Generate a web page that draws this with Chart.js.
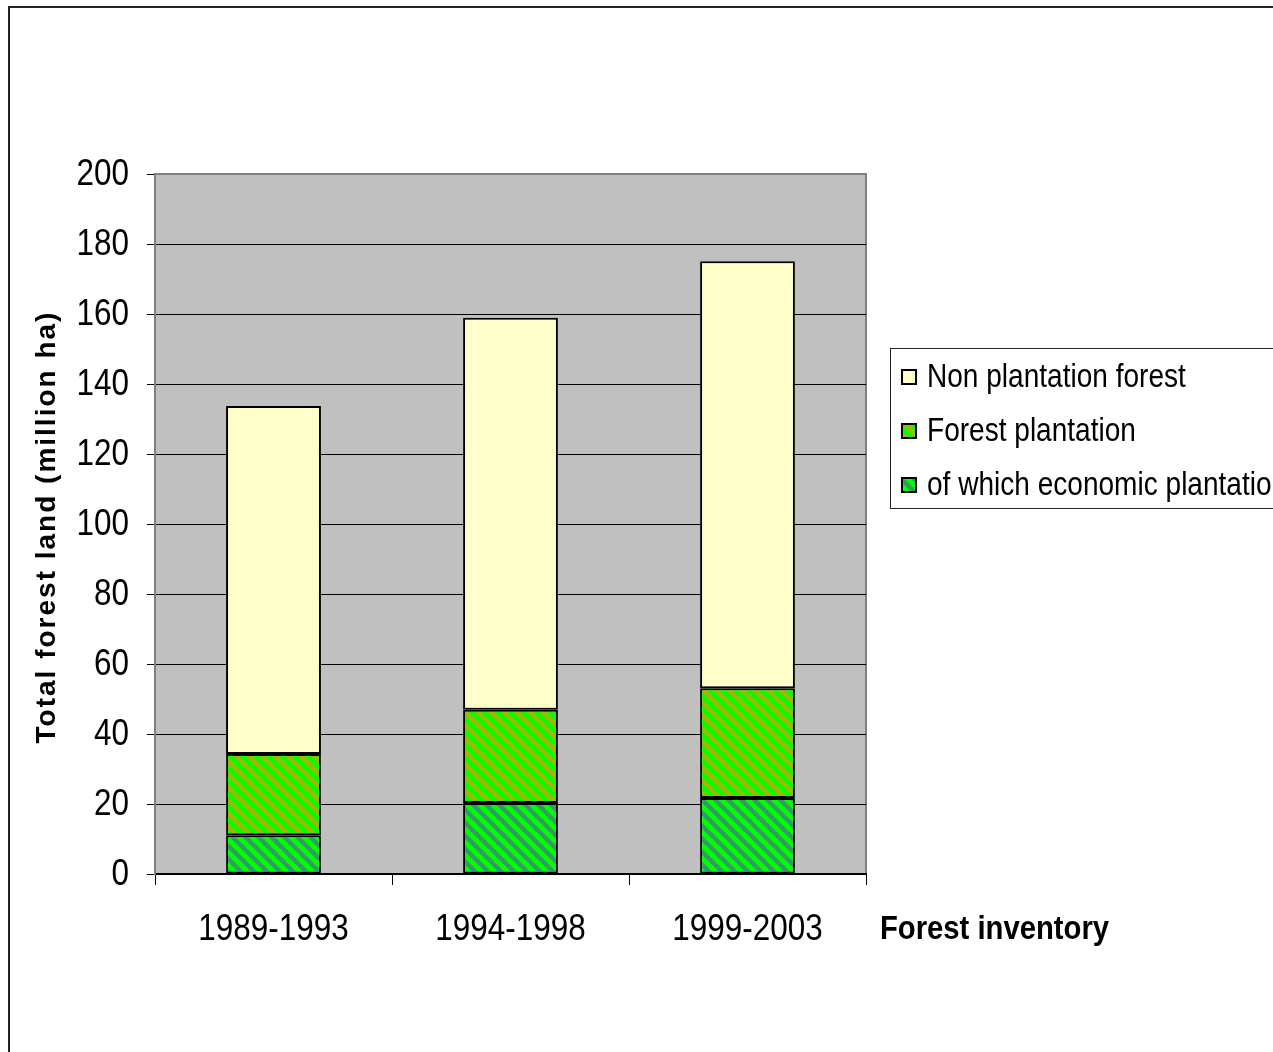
<!DOCTYPE html>
<html>
<head>
<meta charset="utf-8">
<title>Total forest land</title>
<script src="https://cdn.jsdelivr.net/npm/chart.js@4.4.1/dist/chart.umd.min.js"></script>
<style>
  html, body { margin: 0; padding: 0; background: #fff; }
  #chart { display: block; }
</style>
</head>
<body>
<canvas id="chart" width="1273" height="1052"></canvas>
<script>
// data (million ha)
const inventories = ['1989-1993', '1994-1998', '1999-2003'];
const economicPlantation = [11.1, 20.3, 21.7];   // bottom segment
const otherPlantation = [23.2, 26.6, 31.4];      // rest of forest plantation
const nonPlantation = [99.4, 112.0, 122.0];      // top segment
const yTicks = [0, 20, 40, 60, 80, 100, 120, 140, 160, 180, 200];

const seriesLabels = ['of which economic plantation', 'Forest plantation', 'Non plantation forest'];

(() => {
  const sans = "'Liberation Sans', Arial, sans-serif";
  const SQUEEZE = 0.85; // the original used a narrow face, no narrow font here so squeeze it

  // text drawn horizontally squeezed around (x, y)
  function narrowText(ctx, text, x, y, font, align, sx) {
    ctx.save();
    ctx.font = font;
    ctx.textAlign = align;
    ctx.textBaseline = 'middle';
    ctx.fillStyle = '#000';
    ctx.translate(x, y);
    ctx.scale(sx || SQUEEZE, 1);
    ctx.fillText(text, 0, 0);
    ctx.restore();
  }

  // diagonal stripe fill, like the old excel patterns
  function stripes(base, stripe, p) {
    const c = document.createElement('canvas');
    c.width = p; c.height = p;
    const g = c.getContext('2d');
    g.fillStyle = base;
    g.fillRect(0, 0, p, p);
    g.strokeStyle = stripe;
    g.lineWidth = p / 2.6;
    for (let k = -1; k <= 1; k++) {
      g.beginPath();
      g.moveTo(k * p - 1, -1);
      g.lineTo(k * p + p + 1, p + 1);
      g.stroke();
    }
    return g.createPattern(c, 'repeat');
  }

  const econFill = stripes('#339966', '#00FF00', 13);
  const plantFill = stripes('#00FF00', '#99BB00', 13);
  const nonFill = '#FFFFCC';

  // grey plot area, outer frame, tick labels, axis titles and the boxed legend
  const decor = {
    id: 'decor',
    beforeDraw(chart) {
      const { ctx, chartArea: a } = chart;
      ctx.save();
      ctx.fillStyle = '#C0C0C0';
      ctx.fillRect(a.left, a.top, a.right - a.left, a.bottom - a.top);
      ctx.strokeStyle = '#808080';
      ctx.lineWidth = 2;
      ctx.beginPath();
      ctx.moveTo(a.left, a.top);
      ctx.lineTo(a.right, a.top);
      ctx.lineTo(a.right, a.bottom);
      ctx.stroke();
      ctx.restore();
    },
    afterDraw(chart) {
      const { ctx, scales } = chart;

      // tick labels from the scales
      yTicks.forEach(v => {
        narrowText(ctx, String(v), 129, scales.y.getPixelForValue(v) + 1, '37px ' + sans, 'right');
      });
      chart.data.labels.forEach((l, i) => {
        narrowText(ctx, l, scales.x.getPixelForTick(i), 930, '37px ' + sans, 'center');
      });

      ctx.save();
      // outer frame (runs off the right and bottom edge)
      ctx.strokeStyle = '#222';
      ctx.lineWidth = 2;
      ctx.strokeRect(9, 7, 1400, 1200);

      // y title
      ctx.fillStyle = '#000';
      ctx.font = 'bold 28px ' + sans;
      ctx.letterSpacing = '2px';
      ctx.textAlign = 'center';
      ctx.textBaseline = 'middle';
      ctx.translate(47, 527);
      ctx.rotate(-Math.PI / 2);
      ctx.fillText('Total forest land (million ha)', 0, 0);
      ctx.setTransform(1, 0, 0, 1, 0, 0);
      ctx.letterSpacing = '0px';

      // legend box
      ctx.strokeStyle = '#222';
      ctx.lineWidth = 1;
      ctx.strokeRect(890.5, 348.5, 500, 160);
      const ds = chart.data.datasets.slice().reverse();
      ds.forEach((d, i) => {
        const y = 377 + i * 54;
        ctx.fillStyle = d.backgroundColor;
        ctx.fillRect(902, y - 7, 14, 14);
        ctx.strokeStyle = '#000';
        ctx.lineWidth = 2;
        ctx.strokeRect(902, y - 7, 14, 14);
        narrowText(ctx, d.label, 927, y + 1, '33px ' + sans, 'left');
      });
      ctx.restore();

      // x title sits right of the axis
      narrowText(ctx, 'Forest inventory', 880, 930, 'bold 34px ' + sans, 'left', 0.86);
    }
  };

  const seg = (label, data, fill) => ({
    label: label,
    data: data,
    backgroundColor: fill,
    borderColor: '#000',
    borderWidth: 2,
    borderSkipped: false,
    barPercentage: 0.4,
    categoryPercentage: 1.0
  });

  new Chart(document.getElementById('chart'), {
    type: 'bar',
    data: {
      labels: inventories,
      datasets: [
        seg(seriesLabels[0], economicPlantation, econFill),
        seg(seriesLabels[1], otherPlantation, plantFill),
        seg(seriesLabels[2], nonPlantation, nonFill)
      ]
    },
    options: {
      responsive: false,
      animation: false,
      devicePixelRatio: 1,
      layout: { padding: { left: 0, right: 407, top: 174, bottom: 0 } },
      plugins: { legend: { display: false }, tooltip: { enabled: false } },
      scales: {
        x: {
          stacked: true,
          afterFit: s => { s.height = 178; },
          grid: { display: true, drawOnChartArea: false, offset: true, tickLength: 11, tickColor: '#000', tickWidth: 1 },
          border: { color: '#000', width: 2 },
          ticks: { display: false }
        },
        y: {
          stacked: true,
          min: 0,
          max: 200,
          afterFit: s => { s.width = 155; },
          afterBuildTicks: s => { s.ticks = yTicks.map(v => ({ value: v })); },
          grid: {
            color: c => c.tick && c.tick.value === 200 ? '#808080' : '#000',
            lineWidth: 1,
            tickLength: 8,
            tickColor: '#000'
          },
          border: { color: '#808080', width: 2 },
          ticks: { display: false }
        }
      }
    },
    plugins: [decor]
  });
})();
</script>
</body>
</html>
